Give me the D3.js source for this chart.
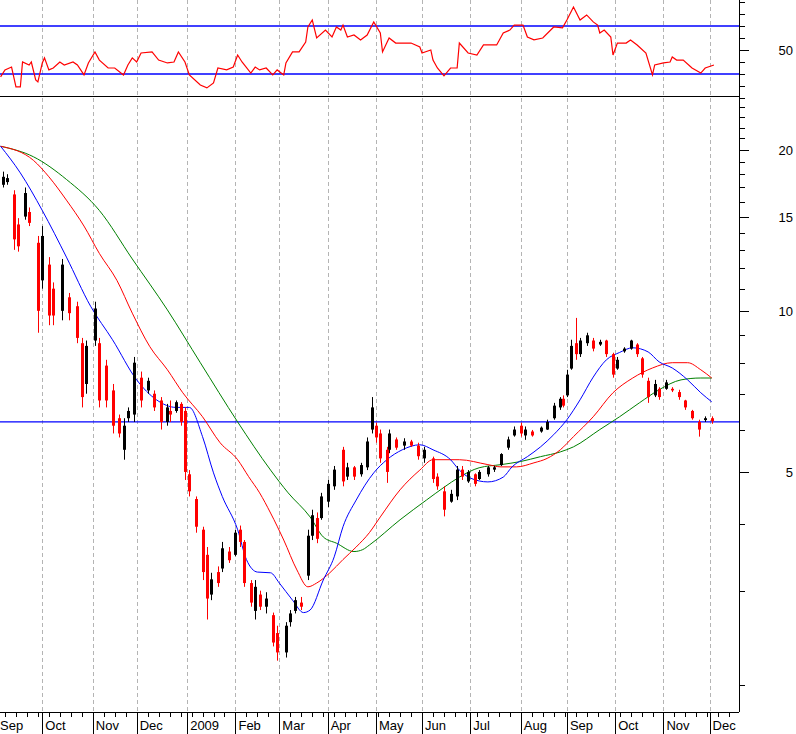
<!DOCTYPE html>
<html>
<head>
<meta charset="utf-8">
<script src="https://cdn.jsdelivr.net/npm/d3@7"></script>
<style>
body { margin:0; background:#fff; }
text { font-family: "Liberation Sans", Arial, sans-serif; font-size:13px; }
</style>
</head>
<body>
<script>
// trading-day number counted from 2008-09-01
var days   = [4,6,9,11,14,16,20,22,25,27,31,34,38,40,42,46,48,51,54,57,59,61,64,67,70,73,76,79,80,83,85,87,89,92,95,97,99,102,104,107,110,112,114,117,119,121,124,127,129,133,135,137,140,143,145,147,149,152,155,159,161,164,167,170,172,174,176,179,180,183,187,190,193,196,200,202,205,208,211,213,216,219,221,225,228,231,234,237,240,242,245,249,252,255,258,259,261,263,265,267,270,273,276,279,282,284,287,290,293,295,298,301,303,306,309,312,315,318,321,324,327];
var opens  = [17.2,17.4,16.5,14.5,15.0,15.3,13.4,11.4,12.2,11.0,10.0,10.6,10.2,8.7,7.3,8.8,8.7,7.9,7.1,6.3,5.5,6.3,6.4,7.5,7.1,7.0,6.8,6.2,6.5,6.5,6.7,6.5,4.95,4.45,3.9,3.5,2.95,3.25,3.3,3.55,3.5,3.9,3.7,3.1,2.75,2.95,2.8,2.7,2.5,2.3,2.62,2.75,2.85,3.2,3.8,4.1,4.1,4.4,4.7,5.5,4.9,5.1,4.95,5.1,6.0,6.1,5.9,5.5,5.5,5.75,5.6,5.7,5.6,5.3,5.3,4.9,4.6,4.4,4.5,5.05,4.8,4.95,4.85,4.95,5.05,5.15,5.55,5.85,6.1,5.85,5.95,5.95,6.0,6.3,6.6,6.85,6.95,7.8,8.7,8.3,8.7,8.8,8.65,8.8,8.3,7.8,8.4,8.5,8.65,8.15,7.4,6.95,7.15,7.15,7.15,7.05,6.8,6.5,6.2,6.25,6.3];
var highs  = [18.2,18.0,16.8,14.9,17.0,15.6,13.8,14.4,12.6,11.3,12.5,10.8,10.4,8.9,8.8,10.4,8.9,8.1,7.3,6.4,6.3,6.6,8.2,7.7,7.5,7.1,6.9,6.7,6.8,6.8,6.75,6.6,5.04,4.5,3.95,3.62,3.24,3.33,3.7,3.62,3.9,3.97,3.73,3.14,3.14,3.0,2.98,2.73,2.58,2.62,2.76,2.92,2.92,3.9,4.25,4.2,4.57,4.83,5.13,5.57,5.2,5.13,5.2,5.8,6.9,6.18,6.0,5.57,6.0,5.8,5.78,5.74,5.67,5.57,5.34,4.97,4.7,4.63,5.13,5.13,5.04,4.97,5.04,5.13,5.13,5.42,5.82,6.08,6.18,6.08,5.99,6.08,6.26,6.73,6.9,6.95,7.76,8.83,9.7,8.9,9.1,8.9,8.83,8.83,8.35,8.2,8.55,8.83,8.7,8.2,7.5,7.43,7.2,7.43,7.2,7.12,6.82,6.53,6.26,6.35,6.35];
var lows   = [17.0,17.2,13.0,12.9,14.8,14.4,9.1,11.0,9.4,9.4,9.6,9.6,8.7,6.6,7.0,8.6,6.6,6.6,5.9,5.8,5.27,6.2,6.2,6.6,7.0,6.5,6.0,6.1,6.2,6.45,6.1,4.83,4.5,3.85,3.14,2.65,2.88,3.05,3.25,3.38,3.48,3.62,3.05,2.8,2.65,2.76,2.72,2.36,2.22,2.25,2.57,2.72,2.76,3.14,3.73,3.68,4.07,4.3,4.63,4.7,4.83,4.83,4.9,5.04,5.9,5.67,5.2,4.77,5.42,5.5,5.5,5.57,5.27,5.2,4.77,4.63,4.13,4.38,4.43,4.83,4.77,4.7,4.83,4.9,5.0,5.13,5.5,5.82,5.82,5.74,5.82,5.92,5.99,6.26,6.53,6.6,6.9,7.76,8.1,8.2,8.6,8.4,8.6,8.2,7.5,7.76,8.35,8.46,8.2,7.5,6.73,6.9,6.82,7.12,7.05,6.82,6.53,6.26,5.82,6.2,6.15];
var closes = [17.8,17.7,13.6,13.2,16.6,14.6,10.0,13.8,9.8,9.8,12.2,9.9,8.9,6.9,8.6,10.1,6.8,6.8,6.1,5.9,6.1,6.5,8.0,6.8,7.4,6.6,6.2,6.6,6.4,6.75,6.2,5.0,4.6,3.95,3.25,2.9,3.15,3.1,3.6,3.42,3.85,3.7,3.1,2.85,3.05,2.8,2.9,2.4,2.3,2.58,2.72,2.88,2.8,3.8,4.15,3.75,4.5,4.75,5.05,4.8,5.1,4.9,5.15,5.7,6.6,5.8,5.3,5.0,5.9,5.55,5.7,5.6,5.35,5.5,4.85,4.7,4.25,4.55,5.05,4.9,5.0,4.75,5.0,5.1,5.1,5.4,5.75,6.0,5.9,6.0,5.85,6.05,6.2,6.65,6.85,6.65,7.6,8.6,8.3,8.8,9.0,8.5,8.75,8.3,7.6,8.1,8.5,8.8,8.3,7.6,6.9,7.3,6.9,7.35,7.1,6.9,6.6,6.3,6.0,6.3,6.22];

// moving averages: [day, value]
var maFast = [[3,20.3],[12,18.1],[22,15.4],[33,12.6],[44,10.2],[54,8.83],[65,7.43],[74,6.82],[83,6.6],[89,6.6],[95,5.82],[100,4.98],[104,4.5],[111,3.9],[115,3.43],[120,3.25],[126,3.24],[130,3.1],[136,2.88],[141,2.73],[144,2.76],[150,3.14],[155,3.47],[159,3.95],[165,4.43],[173,4.98],[179,5.27],[186,5.5],[194,5.62],[200,5.5],[208,5.27],[212,5.04],[217,4.87],[225,4.79],[232,4.89],[236,5.11],[243,5.34],[249,5.57],[255,5.87],[261,6.26],[267,6.82],[273,7.52],[279,8.1],[285,8.36],[291,8.53],[298,8.38],[303,8.03],[309,7.82],[316,7.43],[322,7.03],[327,6.76]];
var maMid  = [[3,20.3],[18,19.1],[25,17.8],[33,16.1],[41,14.4],[48,12.8],[56,11.4],[63,9.9],[71,8.57],[79,7.76],[86,7.03],[95,6.34],[103,5.67],[111,5.27],[116,4.9],[121,4.57],[126,4.19],[132,3.73],[138,3.28],[143,3.05],[147,3.1],[153,3.24],[159,3.43],[165,3.62],[171,3.85],[176,4.12],[185,4.63],[194,5.04],[200,5.27],[212,5.27],[225,5.16],[231,5.11],[238,5.11],[246,5.2],[252,5.3],[258,5.5],[264,5.82],[273,6.34],[282,7.03],[291,7.49],[300,7.82],[309,8.0],[316,8.0],[322,7.76],[327,7.49]];
var maSlow = [[3,20.3],[18,19.4],[33,17.6],[48,15.4],[63,12.5],[79,10.04],[94,8.0],[111,6.2],[126,5.04],[134,4.57],[144,4.12],[150,3.78],[156,3.68],[164,3.55],[168,3.58],[171,3.65],[185,4.07],[197,4.43],[205,4.68],[212,4.89],[221,5.09],[231,5.16],[240,5.23],[249,5.34],[258,5.45],[264,5.57],[276,6.0],[285,6.34],[294,6.73],[303,7.12],[313,7.43],[322,7.49],[327,7.49]];

// oscillator in the upper panel: [day, value]
var osc = [[3,38.8],[5,41.7],[7,42.5],[8,42.9],[10,34.6],[12,34.6],[13,45],[16,43.75],[17,45],[19,37.5],[20,36.7],[22,44.6],[23,46.7],[25,41.7],[27,42.5],[30,45],[32,43.75],[36,45],[38,43.75],[41,39.6],[43,44.6],[46,49.2],[48,45.8],[52,42.5],[55,42.5],[59,39.6],[61,43.75],[63,46.7],[65,45],[67,48.75],[72,49.2],[75,45.8],[79,44.6],[82,45],[84,49.2],[87,45],[89,39.6],[94,35.4],[97,34.2],[100,36.25],[102,42.5],[106,41.7],[109,42.9],[111,47.9],[113,45],[117,40.4],[119,42.9],[121,41.7],[124,42.5],[127,39.6],[129,41.7],[132,39.6],[133,44.6],[136,49.2],[139,49.2],[142,53.3],[143,59.6],[145,62.5],[147,55],[151,58.3],[154,55.4],[156,59.6],[158,58.3],[159,60.4],[161,55.4],[164,56.25],[167,54.2],[170,56.25],[173,61.7],[176,57.1],[177,49.2],[180,55],[183,52.9],[185,52.9],[190,52.9],[194,51.25],[195,48.75],[199,50],[200,45.8],[202,42.5],[205,39.2],[208,42.5],[211,42.5],[212,52.9],[216,48.75],[220,47.9],[223,52.1],[229,52.1],[232,57.1],[235,58.3],[237,60.4],[241,60.4],[243,55.4],[246,54.2],[250,55],[255,59.6],[259,59.2],[261,62.5],[264,67.9],[267,62.5],[270,64.6],[273,61.7],[275,60.4],[276,57.1],[278,58.3],[281,55.4],[282,47.9],[284,52.9],[288,52.9],[290,54.2],[293,52.1],[297,48.75],[300,39.6],[301,43.75],[305,44.6],[308,45],[309,47.1],[311,45.8],[314,45.8],[318,42.5],[322,40.4],[324,42.5],[328,43.75]];

var priceLabels = [5, 10, 15, 20];
var priceTicks = d3.range(2, 26);
var supportLevel = 6.2;
var oscBands = [40, 60];
var oscLabels = [50];
var oscTicks = [35, 40, 45, 50, 55, 60, 65, 70];
var monthNames = ["Jan","Feb","Mar","Apr","May","Jun","Jul","Aug","Sep","Oct","Nov","Dec"];

var W = 796, H = 734, plotRight = 739, splitY = 96, axisY = 712;

// trading calendar
var sessions = d3.timeDay.range(new Date(2008, 8, 1), new Date(2009, 11, 31))
  .filter(function(d) { return d.getDay() != 0 && d.getDay() != 6; });
var monthStarts = [], weekStarts = [];
sessions.forEach(function(d, i) {
  if (i == 0 || d.getMonth() != sessions[i-1].getMonth()) monthStarts.push({i:i, d:d});
  if (d.getDay() == 1) weekStarts.push(i);
});

var x = d3.scaleLinear().domain([0, 100]).range([-6, 213.5]);
var y = d3.scaleLog().domain([1.78, 25.2]).range([axisY, splitY]);
var yo = d3.scaleLinear().domain([30.83, 70.83]).range([splitY, 0]);

var svg = d3.select("body").append("svg").attr("width", W).attr("height", H);
svg.append("defs").append("clipPath").attr("id", "clipMain")
  .append("rect").attr("x", 0).attr("y", splitY).attr("width", plotRight).attr("height", axisY - splitY);
svg.select("defs").append("clipPath").attr("id", "clipOsc")
  .append("rect").attr("x", 0).attr("y", 0).attr("width", plotRight).attr("height", splitY);

// month grid lines
svg.selectAll("line.grid").data(monthStarts).enter().append("line")
  .attr("x1", function(d) { return Math.round(x(d.i)) + 0.5; }).attr("x2", function(d) { return Math.round(x(d.i)) + 0.5; })
  .attr("y1", 0).attr("y2", axisY)
  .attr("stroke", "#b4b4b4").attr("stroke-dasharray", "4,3");

// oscillator panel
var og = svg.append("g").attr("clip-path", "url(#clipOsc)");
og.selectAll("line.band").data(oscBands).enter().append("line")
  .attr("x1", 0).attr("x2", plotRight).attr("y1", yo).attr("y2", yo)
  .attr("stroke", "#0000ff").attr("stroke-width", 1.3);
og.append("path").datum(osc)
  .attr("fill", "none").attr("stroke", "#ff0000").attr("stroke-width", 1.2)
  .attr("d", d3.line().x(function(d) { return x(d[0]); }).y(function(d) { return yo(d[1]); }));

svg.append("line").attr("x1", 0).attr("x2", plotRight).attr("y1", splitY + 0.5).attr("y2", splitY + 0.5)
  .attr("stroke", "#000");

// price panel
var mg = svg.append("g").attr("clip-path", "url(#clipMain)");
mg.append("line").attr("x1", 0).attr("x2", plotRight)
  .attr("y1", y(supportLevel)).attr("y2", y(supportLevel))
  .attr("stroke", "#0000ff").attr("stroke-width", 1.3);

var maLine = d3.line().curve(d3.curveMonotoneX)
  .x(function(d) { return x(d[0]); }).y(function(d) { return y(d[1]); });
[[maSlow, "#008000"], [maMid, "#ff0000"], [maFast, "#0000ff"]].forEach(function(m) {
  mg.append("path").datum(m[0]).attr("fill", "none").attr("stroke", m[1]).attr("stroke-width", 1).attr("d", maLine);
});

var bars = days.map(function(d, i) {
  return {d:d, o:opens[i], h:highs[i], l:lows[i], c:closes[i]};
});
var bg = mg.selectAll("g.bar").data(bars).enter().append("g");
bg.append("line")
  .attr("x1", function(b) { return Math.round(x(b.d)) + 0.5; })
  .attr("x2", function(b) { return Math.round(x(b.d)) + 0.5; })
  .attr("y1", function(b) { return y(b.h); }).attr("y2", function(b) { return y(b.l); })
  .attr("stroke", function(b) { return b.c >= b.o ? "#000" : "#ff0000"; });
bg.append("rect")
  .attr("x", function(b) { return Math.round(x(b.d)) - 1; })
  .attr("width", 3)
  .attr("y", function(b) { return y(Math.max(b.o, b.c)); })
  .attr("height", function(b) { return Math.max(1, Math.abs(y(b.o) - y(b.c))); })
  .attr("fill", function(b) { return b.c >= b.o ? "#000" : "#ff0000"; });

// right axis
svg.append("line").attr("x1", plotRight + 0.5).attr("x2", plotRight + 0.5).attr("y1", 0).attr("y2", axisY)
  .attr("stroke", "#000");
svg.selectAll("line.pt").data(priceTicks).enter().append("line")
  .attr("x1", plotRight).attr("y1", function(v) { return Math.round(y(v)) + 0.5; })
  .attr("x2", function(v) { return priceLabels.indexOf(v) >= 0 ? plotRight + 10 : plotRight + 6; })
  .attr("y2", function(v) { return Math.round(y(v)) + 0.5; })
  .attr("stroke", "#000");
svg.selectAll("text.pl").data(priceLabels).enter().append("text")
  .attr("x", 793).attr("y", function(v) { return y(v) + 5; })
  .attr("text-anchor", "end").text(function(v) { return v; });
svg.selectAll("line.ot").data(oscTicks).enter().append("line")
  .attr("x1", plotRight).attr("y1", function(v) { return Math.round(yo(v)) + 0.5; })
  .attr("x2", function(v) { return oscLabels.indexOf(v) >= 0 ? plotRight + 10 : plotRight + 6; })
  .attr("y2", function(v) { return Math.round(yo(v)) + 0.5; })
  .attr("stroke", "#000");
svg.selectAll("text.ol").data(oscLabels).enter().append("text")
  .attr("x", 793).attr("y", function(v) { return yo(v) + 5; })
  .attr("text-anchor", "end").text(function(v) { return v; });

// bottom axis
svg.append("line").attr("x1", 0).attr("x2", plotRight).attr("y1", axisY + 0.5).attr("y2", axisY + 0.5)
  .attr("stroke", "#000");
svg.selectAll("line.wk").data(weekStarts.filter(function(i) { return x(i) < plotRight; })).enter().append("line")
  .attr("x1", function(i) { return Math.round(x(i)) + 0.5; }).attr("x2", function(i) { return Math.round(x(i)) + 0.5; })
  .attr("y1", axisY).attr("y2", axisY + 5).attr("stroke", "#000");
svg.selectAll("line.mt").data(monthStarts).enter().append("line")
  .attr("x1", function(d) { return Math.round(x(d.i)) + 0.5; }).attr("x2", function(d) { return Math.round(x(d.i)) + 0.5; })
  .attr("y1", axisY).attr("y2", H).attr("stroke", "#000");
svg.selectAll("text.ml").data(monthStarts).enter().append("text")
  .attr("x", function(d) { return Math.max(0, x(d.i) + 3); }).attr("y", 730)
  .text(function(d) { return d.d.getMonth() == 0 ? d.d.getFullYear() : monthNames[d.d.getMonth()]; });
</script>
</body>
</html>
